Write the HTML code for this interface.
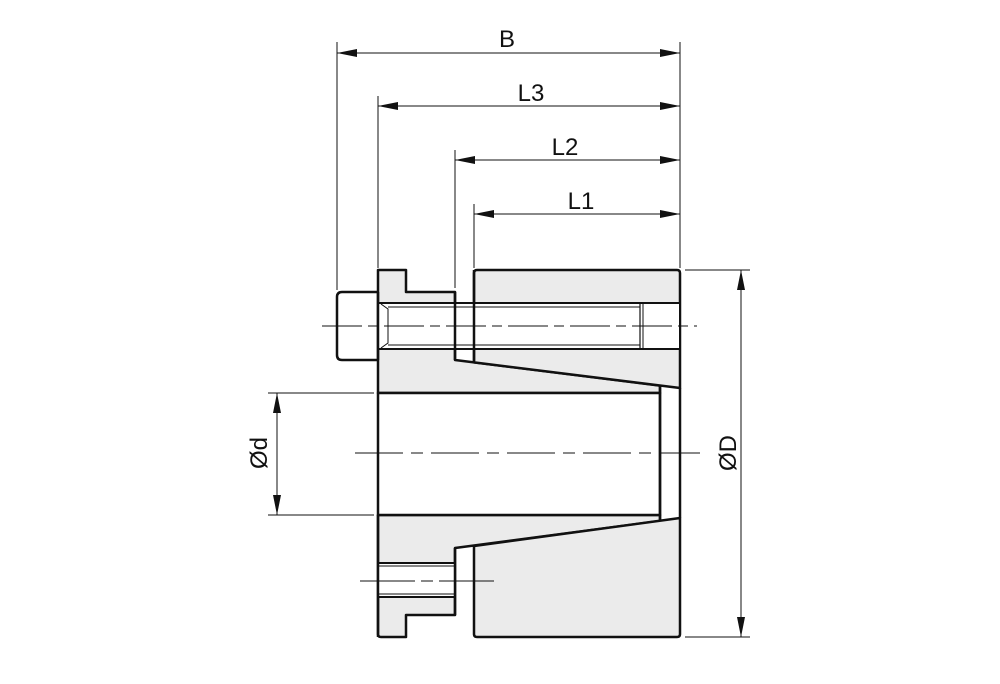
<!DOCTYPE html>
<html><head><meta charset="utf-8"><style>
html,body{margin:0;padding:0;background:#fff;}
svg{display:block;}
text{font-family:"Liberation Sans",Arial,sans-serif;fill:#111;}
</style></head><body>
<svg width="1000" height="684" viewBox="0 0 1000 684" xmlns="http://www.w3.org/2000/svg">
<defs>
<marker id="a" viewBox="0 0 20 8" refX="20" refY="4" markerWidth="20" markerHeight="8" markerUnits="userSpaceOnUse" orient="auto-start-reverse">
<path d="M0,0 L20,4 L0,8 z" fill="#111"/></marker>
</defs>
<g stroke="#111" stroke-width="1" fill="none">
<line x1="337" y1="42" x2="337" y2="290"/>
<line x1="378" y1="96" x2="378" y2="268"/>
<line x1="455" y1="150" x2="455" y2="288"/>
<line x1="474" y1="204" x2="474" y2="268"/>
<line x1="680" y1="42" x2="680" y2="268"/>
<line x1="685" y1="270" x2="750" y2="270"/>
<line x1="685" y1="637" x2="750" y2="637"/>
<line x1="268" y1="393" x2="374" y2="393"/>
<line x1="268" y1="515" x2="374" y2="515"/>
<line x1="337" y1="53" x2="680" y2="53" marker-start="url(#a)" marker-end="url(#a)"/>
<line x1="378" y1="106" x2="680" y2="106" marker-start="url(#a)" marker-end="url(#a)"/>
<line x1="455" y1="160" x2="680" y2="160" marker-start="url(#a)" marker-end="url(#a)"/>
<line x1="474" y1="214" x2="680" y2="214" marker-start="url(#a)" marker-end="url(#a)"/>
<line x1="741" y1="270" x2="741" y2="637" marker-start="url(#a)" marker-end="url(#a)"/>
<line x1="277" y1="393" x2="277" y2="515" marker-start="url(#a)" marker-end="url(#a)"/>
</g>
<g stroke="#111" stroke-width="2.5" fill="#ebebeb" stroke-linejoin="round">
<path d="M378,292 L342,292 Q337,292 337,297 L337,355 Q337,360 342,360 L378,360" fill="#fff"/>
<path d="M378,270 L406,270 L406,292 L455,292 L455,360 L660,385.6 L660,393 L378,393 Z"/>
<path d="M474,362.4 L474,273 Q474,270 477,270 L677,270 Q680,270 680,273 L680,388 Z"/>
<path d="M378,515 L660,515 L660,521 L455,548 L455,615 L406,615 L406,637 L381,637 Q378,637 378,634 Z"/>
<path d="M474,546 L680,518 L680,634 Q680,637 677,637 L477,637 Q474,637 474,634 Z"/>
<path d="M378,393 L660,393 L660,515 L378,515 Z" fill="#fff"/>
<line x1="660" y1="385" x2="660" y2="521"/>
<line x1="680" y1="388" x2="680" y2="518"/>
</g>
<g stroke="#111" fill="none">
<rect x="378" y="303" width="302" height="46" fill="#fff" stroke-width="2"/>
<line x1="455" y1="292" x2="455" y2="360" stroke-width="2.5"/>
<line x1="474" y1="270" x2="474" y2="362" stroke-width="2.5"/>
<line x1="378" y1="292" x2="378" y2="360" stroke-width="2.5"/>
<line x1="388" y1="307" x2="640" y2="307" stroke-width="1"/>
<line x1="388" y1="345" x2="640" y2="345" stroke-width="1"/>
<path d="M381,304 L388,309 L388,343 L381,348" stroke-width="1"/>
<line x1="640" y1="304" x2="640" y2="348" stroke-width="1.2"/>
<line x1="643" y1="304" x2="643" y2="348" stroke-width="1"/>
<rect x="378" y="563" width="77" height="34" fill="#fff" stroke-width="2"/>
<line x1="378" y1="566" x2="455" y2="566" stroke-width="1"/>
<line x1="378" y1="594" x2="455" y2="594" stroke-width="1"/>
<line x1="378" y1="515" x2="378" y2="637" stroke-width="2.5"/>
<line x1="455" y1="548" x2="455" y2="615" stroke-width="2.5"/>
<line x1="322" y1="326" x2="697" y2="326" stroke-width="1" stroke-dasharray="40,6,10,6"/>
<line x1="355" y1="453" x2="700" y2="453" stroke-width="1" stroke-dasharray="48,8,12,8"/>
<line x1="360" y1="581" x2="495" y2="581" stroke-width="1" stroke-dasharray="55,6,12,6"/>
</g>
<text x="507" y="47" font-size="24" text-anchor="middle">B</text>
<text x="531" y="101" font-size="24" text-anchor="middle">L3</text>
<text x="565" y="155" font-size="24" text-anchor="middle">L2</text>
<text x="581" y="209" font-size="24" text-anchor="middle">L1</text>
<text transform="translate(267,453) rotate(-90)" font-size="24" text-anchor="middle">Ød</text>
<text transform="translate(736,453) rotate(-90)" font-size="24" text-anchor="middle">ØD</text>
</svg>
</body></html>
